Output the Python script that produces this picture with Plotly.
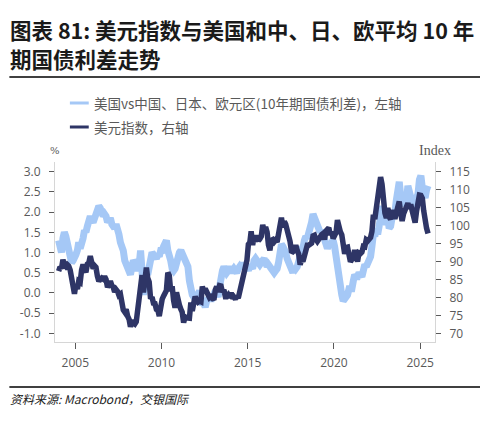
import pandas as pd
import plotly.graph_objects as go

# ---------------- data (monthly, Jan 2004 – Jun 2025) ----------------
spread_2004_2009 = [
    1.30, 1.20, 1.00, 1.35, 1.50, 1.40, 1.25, 1.05, 0.90, 0.75, 0.80, 0.85,
    0.95, 1.05, 1.25, 1.10, 1.20, 1.35, 1.55, 1.50, 1.65, 1.80, 1.90, 1.80,
    1.75, 1.85, 1.95, 2.05, 2.15, 2.10, 2.00, 1.90, 1.95, 1.90, 1.75, 1.80,
    1.85, 1.70, 1.65, 1.60, 1.70, 1.60, 1.45, 1.25, 1.15, 1.05, 0.80, 0.70,
    0.60, 0.50, 0.45, 0.65, 0.80, 0.75, 0.65, 0.55, 0.70, 1.05, 0.55, -0.05,
    0.30, 0.55, 0.45, 0.70, 0.95, 1.00, 0.95, 0.90, 0.85, 0.95, 0.90, 1.05,
]
spread_2010_2015 = [
    1.05, 1.15, 1.25, 1.30, 1.05, 0.95, 0.80, 0.60, 0.55, 0.60, 0.75, 0.95,
    1.00, 1.05, 0.95, 0.90, 0.75, 0.70, 0.65, 0.30, 0.05, -0.05, -0.10, -0.15,
    -0.10, -0.05, 0.05, -0.10, -0.30, -0.25, -0.35, -0.20, -0.15, -0.10, -0.20, -0.10,
    0.00, 0.05, 0.00, -0.10, 0.15, 0.45, 0.55, 0.65, 0.60, 0.50, 0.55, 0.65,
    0.55, 0.55, 0.60, 0.55, 0.50, 0.60, 0.65, 0.60, 0.75, 0.60, 0.70, 0.65,
    0.55, 0.70, 0.65, 0.60, 0.80, 0.85, 0.80, 0.75, 0.70, 0.75, 0.85, 0.85,
]
spread_2016_2021 = [
    0.75, 0.65, 0.70, 0.65, 0.65, 0.55, 0.50, 0.55, 0.60, 0.75, 1.10, 1.20,
    1.15, 1.10, 1.00, 0.85, 0.75, 0.60, 0.55, 0.50, 0.65, 0.60, 0.65, 0.75,
    0.90, 1.15, 1.10, 1.30, 1.40, 1.35, 1.45, 1.55, 1.75, 1.95, 1.85, 1.70,
    1.65, 1.60, 1.50, 1.55, 1.45, 1.30, 1.30, 1.10, 1.20, 1.15, 1.25, 1.30,
    1.15, 0.90, 0.40, 0.20, 0.05, -0.05, -0.20, -0.15, -0.10, -0.05, 0.10, 0.10,
    0.10, 0.30, 0.45, 0.40, 0.40, 0.50, 0.45, 0.40, 0.55, 0.70, 0.65, 0.75,
]
spread_2022_2025 = [
    0.80, 0.90, 1.15, 1.45, 1.40, 1.60, 1.45, 1.65, 2.00, 2.15, 1.90, 1.75,
    1.70, 1.85, 1.60, 1.65, 1.85, 1.95, 2.00, 2.30, 2.50, 2.75, 2.40, 2.15,
    2.15, 2.30, 2.25, 2.65, 2.50, 2.45, 2.25, 2.05, 1.95, 2.35, 2.45, 2.80,
    2.90, 2.60, 2.40, 2.35, 2.55, 2.65,
]

dxy_2004_2009 = [
    87.3, 88.5, 88.0, 90.5, 89.0, 88.6, 89.1, 88.7, 87.6, 84.9, 81.5, 81.0,
    83.6, 82.3, 84.5, 84.2, 87.6, 89.2, 87.9, 87.0, 89.3, 89.6, 91.5, 90.0,
    88.0, 88.8, 88.4, 85.9, 84.5, 85.1, 85.4, 85.1, 85.8, 85.0, 82.8, 83.7,
    84.5, 83.3, 82.9, 81.5, 82.2, 81.7, 80.6, 80.9, 78.0, 76.5, 75.9, 76.7,
    74.8, 73.9, 71.8, 73.6, 72.9, 72.6, 73.2, 77.1, 79.0, 85.5, 86.2, 81.4,
    85.0, 88.3, 85.4, 84.3, 79.6, 80.1, 78.4, 78.3, 76.7, 76.5, 74.8, 77.9,
]
dxy_2010_2015 = [
    79.5, 80.4, 81.1, 81.9, 86.9, 86.1, 81.7, 83.1, 79.1, 77.1, 81.4, 79.0,
    77.9, 76.7, 75.9, 73.0, 74.6, 74.3, 74.1, 74.2, 78.6, 76.2, 78.4, 80.2,
    79.3, 78.7, 79.0, 78.8, 83.0, 81.6, 82.4, 81.2, 79.9, 79.9, 80.2, 79.8,
    79.3, 82.1, 83.0, 81.5, 83.3, 83.2, 81.5, 82.1, 80.2, 80.2, 80.7, 80.0,
    81.3, 79.7, 80.1, 79.5, 80.4, 79.8, 81.5, 82.8, 85.9, 86.9, 88.4, 90.3,
    94.8, 95.3, 98.4, 94.6, 96.9, 95.5, 97.3, 95.8, 96.3, 97.0, 100.2, 98.6,
]
dxy_2016_2021 = [
    99.6, 98.2, 94.6, 93.1, 95.9, 96.1, 95.5, 96.0, 95.4, 98.4, 101.5, 102.2,
    99.5, 101.1, 100.4, 99.0, 97.0, 95.6, 92.9, 92.7, 93.1, 94.5, 93.0, 92.1,
    89.1, 90.6, 90.0, 91.8, 94.0, 94.5, 94.5, 95.1, 95.1, 97.1, 97.3, 96.2,
    95.6, 96.2, 97.3, 97.5, 97.8, 96.1, 98.5, 98.9, 99.4, 97.4, 98.3, 96.4,
    97.4, 98.1, 101.5, 99.0, 98.3, 97.4, 93.3, 92.1, 93.9, 94.0, 91.9, 89.9,
    90.6, 90.9, 93.2, 91.3, 90.0, 92.4, 92.2, 92.6, 94.2, 94.1, 96.0, 95.7,
]
dxy_2022_2025 = [
    96.5, 96.7, 98.3, 103.0, 101.8, 104.7, 105.9, 108.7, 113.5, 111.5, 105.9, 103.5,
    102.1, 104.9, 102.5, 101.7, 104.3, 102.9, 101.9, 103.6, 106.2, 106.7, 103.5, 101.3,
    103.3, 104.2, 104.5, 106.2, 104.7, 105.9, 104.1, 101.7, 100.8, 104.0, 105.7, 108.5,
    108.4, 107.6, 104.2, 99.5, 99.3, 97.8,
]

spread = spread_2004_2009 + spread_2010_2015 + spread_2016_2021 + spread_2022_2025
dxy = dxy_2004_2009 + dxy_2010_2015 + dxy_2016_2021 + dxy_2022_2025
dates = pd.date_range("2004-01-01", periods=len(spread), freq="MS") + pd.Timedelta(days=14)

year_ticks = ["2005", "2010", "2015", "2020", "2025"]
left_ticks = [3.0, 2.5, 2.0, 1.5, 1.0, 0.5, 0.0, -0.5, -1.0]
right_ticks = [115, 110, 105, 100, 95, 90, 85, 80, 75, 70]

name_spread = "美国vs中国、日本、欧元区(10年期国债利差)，左轴"
name_dxy = "美元指数，右轴"
title_1 = "图表 81: 美元指数与美国和中、日、欧平均 10 年"
title_2 = "期国债利差走势"
source = "资料来源: Macrobond，交银国际"

# ---------------- style ----------------
LIGHT = "#a5c8f6"
DARK = "#2e3566"
GRAY = "#595959"
AXIS = "#d6d6d6"

# page body has an 8px margin: figure drawn 8px in from the window corner
OFF = 8
W, H = 488 - OFF, 422 - OFF
L, R, T, B = 52 - OFF, 488 - 435, 162 - OFF, 422 - 342
pw, ph = W - L - R, H - T - B


def px(x):
    # x given in window pixels
    return (x - OFF - L) / pw


def py(y):
    # y given in window pixels
    return (H - B - (y - OFF)) / ph


fig = go.Figure()
fig.add_trace(go.Scatter(x=dates, y=spread, mode="lines", name=name_spread,
                         line=dict(color=LIGHT, width=7), yaxis="y"))
fig.add_trace(go.Scatter(x=dates, y=dxy, mode="lines", name=name_dxy,
                         line=dict(color=DARK, width=5.5), yaxis="y2"))

tickfont = dict(family="Open Sans", size=12, color=GRAY)
fig.update_layout(
    width=W, height=H,
    margin=dict(l=L, r=R, t=T, b=B, pad=0),
    paper_bgcolor="white", plot_bgcolor="white",
    showlegend=False,
    xaxis=dict(
        type="date", range=["2003-10-30", "2025-11-10"],
        tickvals=[f"{y}-01-01" for y in year_ticks], ticktext=year_ticks,
        showgrid=False, zeroline=False,
        showline=True, linecolor=AXIS, linewidth=1,
        ticks="outside", ticklen=6, tickcolor=GRAY, tickwidth=1,
        tickfont=tickfont, ticklabelstandoff=4,
    ),
    yaxis=dict(
        range=[-1.215, 3.24], tickvals=left_ticks,
        ticktext=[f"{v:.1f}" for v in left_ticks],
        showgrid=False, zeroline=False,
        showline=True, linecolor=AXIS, linewidth=1,
        ticks="outside", ticklen=5, tickcolor=GRAY, tickwidth=1,
        tickfont=tickfont, ticklabelstandoff=6,
    ),
    yaxis2=dict(
        range=[67.58, 117.7], tickvals=right_ticks,
        overlaying="y", side="right",
        showgrid=False, zeroline=False,
        showline=True, linecolor=AXIS, linewidth=1,
        ticks="outside", ticklen=5, tickcolor=GRAY, tickwidth=1,
        tickfont=tickfont, ticklabelstandoff=6,
    ),
)

shapes = [
    dict(type="line", xref="paper", yref="paper", x0=px(6), x1=px(483), y0=py(77), y1=py(77),
         line=dict(color="#404040", width=2)),
    dict(type="line", xref="paper", yref="paper", x0=px(6), x1=px(483), y0=py(387), y1=py(387),
         line=dict(color="#404040", width=2)),
    dict(type="line", xref="paper", yref="paper", x0=px(67), x1=px(86), y0=py(103), y1=py(103),
         line=dict(color=LIGHT, width=3)),
    dict(type="line", xref="paper", yref="paper", x0=px(67), x1=px(86), y0=py(127), y1=py(127),
         line=dict(color=DARK, width=3)),
]
fig.update_layout(shapes=shapes)

title_font = dict(family="Noto Sans CJK SC", size=21.5, color="#1a1a1a", weight="bold")
ann = [
    dict(text=title_1, x=px(5), y=py(29), xanchor="left", yanchor="middle", font=title_font),
    dict(text=title_2, x=px(5), y=py(58), xanchor="left", yanchor="middle", font=title_font),
    dict(text=name_spread, x=px(89), y=py(103), xanchor="left", yanchor="middle",
         font=dict(family="Noto Sans CJK SC", size=13.5, color=GRAY)),
    dict(text=name_dxy, x=px(89), y=py(127), xanchor="left", yanchor="middle",
         font=dict(family="Noto Sans CJK SC", size=13.5, color=GRAY)),
    dict(text="%", x=px(52), y=py(150), xanchor="center", yanchor="middle",
         font=dict(family="DejaVu Serif", size=10, color=GRAY)),
    dict(text="Index", x=px(435), y=py(150), xanchor="center", yanchor="middle",
         font=dict(family="Liberation Serif", size=14, color=GRAY)),
    dict(text=source, x=px(5), y=py(398), xanchor="left", yanchor="middle",
         font=dict(family="Noto Sans CJK SC", size=12, color="#1a1a1a", style="italic")),
]
for a in ann:
    a.update(xref="paper", yref="paper", showarrow=False)
fig.update_layout(annotations=ann)

fig.write_html("out.html")
